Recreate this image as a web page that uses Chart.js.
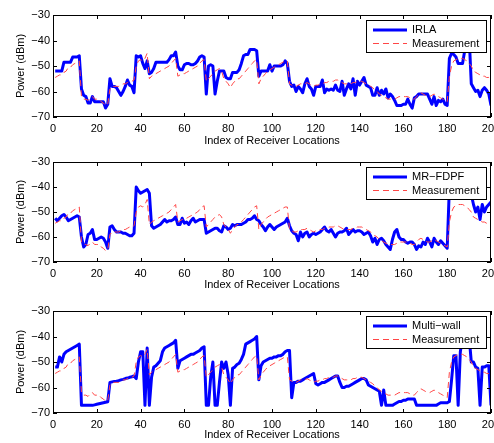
<!DOCTYPE html>
<html>
<head>
<meta charset="utf-8">
<title>Power vs receiver location</title>
<script src="https://cdn.jsdelivr.net/npm/chart.js@4.4.0/dist/chart.umd.min.js"></script>
<style>
  body { margin: 0; background: #fff; overflow: hidden; }
  canvas { position: absolute; left: 0; }
</style>
</head>
<body>
<canvas id="irla-chart" width="494" height="148" style="top:0"></canvas>
<canvas id="mrfdpf-chart" width="494" height="148" style="top:148px"></canvas>
<canvas id="multiwall-chart" width="494" height="147" style="top:296px"></canvas>
<script>
// receiver index 1..200
const locations = Array.from({ length: 200 }, (_, i) => i + 1);
const xTicks = [0, 20, 40, 60, 80, 100, 120, 140, 160, 180, 200];
const yTicks = [-70, -60, -50, -40, -30];

// measured power (dBm), same trace in all three panels
const measurement = [
  -54.5, -54, -53.5, -53.5, -52.5, -52, -50.5, -50.5, -49.5, -49,
  -48.5, -48, -62, -63, -63, -63.5, -62.5, -62, -63, -63,
  -63, -64, -64.5, -65.5, -65, -59, -58, -58, -58, -58,
  -57.5, -57, -57, -56.5, -56, -56, -55.5, -50, -48, -47.5,
  -48, -47, -45, -55, -54, -53.5, -53, -52.5, -52, -51.5,
  -51, -50.5, -50, -49, -48, -47, -54, -53.5, -53, -53,
  -52.5, -52, -51.5, -51, -50.5, -50, -49, -48, -47.5, -56,
  -55, -54, -53, -52, -51.5, -51, -52, -55, -56, -57,
  -58.5, -57, -56, -55, -55, -54, -53, -52, -51, -50,
  -49, -48, -47.5, -57, -55, -54, -53, -52, -51.5, -51,
  -50.5, -50, -49.5, -49, -48.5, -48, -48, -57, -57.5, -58,
  -58, -57.5, -57, -57, -57, -56.5, -57, -57.5, -58, -57.5,
  -57.5, -57, -57, -56.5, -56.5, -56, -56, -56, -55.5, -55.5,
  -56, -56.5, -57, -57, -57, -57, -56.5, -56.5, -56, -56,
  -56, -56.5, -57, -57.5, -58, -58.5, -59.5, -60, -61, -61.5,
  -62, -62.5, -63, -63, -63, -63, -62.5, -62, -62, -62,
  -62, -62, -62.5, -63, -63, -62, -61, -60.5, -61, -61.5,
  -62, -62, -61.5, -61, -61.5, -62, -62.5, -63, -63.5, -64,
  -54, -50, -48, -47.5, -47, -47, -47, -47.5, -48, -49,
  -50, -52, -52.5, -53, -53.5, -54, -54, -54.5, -54.5, -55
];

const irla = [
  -52, -52, -52, -52, -48.5, -48.5, -48.5, -48.5, -46.5, -46.5,
  -46.5, -46, -59, -61.5, -62, -64.5, -64.5, -62, -64, -64,
  -64, -64, -64, -66.5, -65, -55, -58, -58, -58.5, -60,
  -61.5, -60, -58, -55.5, -57.5, -58, -60.5, -46, -46.5, -46,
  -49, -51, -48, -53, -52.5, -51, -48.5, -48.5, -48.5, -48.5,
  -48.5, -48.5, -47.5, -46, -46, -44.5, -50, -51.5, -51.5, -49.5,
  -49, -49, -49.5, -49.5, -49, -48, -46.5, -46, -46.5, -61,
  -50, -49.5, -50, -61, -56, -52, -52, -52, -54.5, -55,
  -55, -52.5, -52.5, -52.5, -51.5, -49, -46, -45.5, -45.5, -43.5,
  -43.5, -43.5, -44, -54, -52, -52, -52, -52, -49.5, -52,
  -50, -50, -50, -50, -49.5, -48, -49, -56, -58, -57.5,
  -60, -58, -59, -60.5, -57, -55, -58, -59, -61.5, -58,
  -58, -58, -55.5, -60.5, -59, -59.5, -59, -59.5, -57.5, -59.5,
  -60, -56, -61.5, -59, -57, -59, -55, -61.5, -56, -57.5,
  -56, -54.5, -57.5, -58, -58.5, -61.5, -61.5, -58.5, -61.5, -59.5,
  -61, -59, -62.5, -61, -62, -63.5, -65.5, -65.5, -65.5, -65,
  -65, -63, -65, -66.5, -62.5, -62, -61, -61, -61, -61,
  -61, -63, -65, -62, -65.5, -63.5, -64, -63, -65, -65.5,
  -47, -45, -45.5, -46.5, -49, -49, -49, -44, -38, -38,
  -57, -58.5, -60, -59.5, -62, -59.5, -58.5, -59.5, -61, -65.5
];

const mrFdpf = [
  -52.5, -53.5, -52.5, -51.5, -51, -52, -53.5, -53, -52.5, -52,
  -51.5, -52, -60, -64, -63, -59, -58.5, -57, -61, -61,
  -60.5, -60, -60.5, -62, -64.5, -56, -55.5, -57, -58, -58,
  -58, -58.5, -58.5, -59, -59.5, -59.5, -58.5, -40, -41.5, -42.5,
  -42, -41.5, -41, -42.5, -55.5, -56.5, -56, -55.5, -55, -54,
  -53, -54, -53.5, -53.5, -53, -52, -55, -55, -52.5, -54.5,
  -54, -55, -53.5, -52.5, -54, -53.5, -53, -53, -53, -58.5,
  -58, -57.5, -57, -56.5, -56.5, -57.5, -58, -55.5, -56, -57,
  -56.5, -55, -55.5, -55, -55, -55, -54.5, -54, -53, -53,
  -52.5, -51.5, -53, -53.5, -55, -56, -57.5, -56, -55, -56,
  -57, -56, -55.5, -55, -54.5, -54, -52.5, -55.5, -57.5, -58.5,
  -59, -61.5, -58, -60, -58.5, -58, -60, -59, -58.5, -59,
  -58.5, -58, -57, -56, -57.5, -58, -57, -58.5, -60, -58.5,
  -58, -58, -57.5, -56.5, -59, -58, -57, -58, -57.5, -57.5,
  -58, -59, -58.5, -58, -59.5, -62, -60.5, -63, -61, -60.5,
  -61.5, -63, -64, -65, -61, -58, -57, -60, -61, -61,
  -62, -62.5, -62, -62, -63, -65, -63.5, -64, -62, -63,
  -60.5, -62, -64, -60.5, -62, -63, -61.5, -62.5, -63.5, -64.5,
  -40, -42, -43, -42, -41, -42, -43, -42, -41, -42,
  -43, -47, -50, -48, -53, -47, -50, -48, -47, -46
];

const multiWall = [
  -52, -52, -48, -50, -47, -46, -45.5, -45, -44.5, -44,
  -43.5, -43, -67, -67, -67, -67, -67, -67, -66.8, -66.6,
  -66.4, -66.2, -66, -65.8, -65.6, -58, -57.8, -57.6, -57.5, -57.3,
  -57, -56.8, -56.5, -56.3, -56, -55.8, -55.5, -56.5, -50, -46,
  -46, -67, -44.5, -67, -56, -52, -51.5, -50.5, -49.5, -46,
  -44.5, -44, -43.5, -43, -42.5, -41.5, -52.5, -49.5, -49, -48.5,
  -48, -47.5, -47, -47, -46.5, -46, -45.5, -44.5, -44, -67,
  -67, -56, -50, -67, -67, -58, -50, -52.5, -50, -55,
  -67, -52.5, -52, -51, -50.5, -49, -47, -43, -42.5, -42,
  -41.5, -41, -40, -57, -51.5, -50, -49.5, -49, -48.5, -48.5,
  -48, -48, -47.5, -47.5, -47, -46, -45.5, -45.5, -64, -58,
  -58, -57.5, -57.5, -57, -56.5, -56, -55.5, -55, -54.5, -58.5,
  -59, -58.5, -58, -58, -57.5, -57, -56.5, -56, -55.5, -55.5,
  -58, -60, -60, -59.5, -59.5, -59, -58.5, -58, -57.5, -57,
  -56.5, -56.5, -57, -59, -59.5, -60, -60.5, -61, -61.5, -67,
  -61, -67, -67, -67, -67, -66.5, -66, -65.5, -65.5, -65,
  -65, -64.5, -64.5, -64.5, -64.5, -67, -67, -67, -67, -67,
  -67, -67, -67, -67, -67, -66.5, -66, -66, -66, -66,
  -65.5, -57, -47.5, -47.5, -67, -46, -40, -38, -38, -40,
  -50, -50, -52, -52.5, -67, -52, -52, -51.5, -51.5, -67
];

Chart.defaults.font.family = '"Liberation Sans", Arial, Helvetica, sans-serif';
Chart.defaults.font.size = 11;
Chart.defaults.color = '#000';

const minus = v => String(v).replace('-', '\u2212');

// box around the plot + short inward ticks on all four sides
const frame = {
  id: 'frame',
  afterDatasetsDraw(chart) {
    const { ctx, chartArea: a, scales: { x, y } } = chart;
    ctx.save();
    ctx.strokeStyle = '#000';
    ctx.lineWidth = 1;
    ctx.strokeRect(a.left + 0.5, a.top + 0.5, a.width - 1, a.height - 1);
    ctx.beginPath();
    x.ticks.forEach(t => {
      const px = Math.round(x.getPixelForValue(t.value)) + 0.5;
      ctx.moveTo(px, a.bottom); ctx.lineTo(px, a.bottom - 4);
      ctx.moveTo(px, a.top); ctx.lineTo(px, a.top + 4);
    });
    y.ticks.forEach(t => {
      const py = Math.round(y.getPixelForValue(t.value)) + 0.5;
      ctx.moveTo(a.left, py); ctx.lineTo(a.left + 4, py);
      ctx.moveTo(a.right, py); ctx.lineTo(a.right - 4, py);
    });
    ctx.stroke();
    ctx.restore();
  }
};

// legend in a white box, top right inside the plot
const boxLegend = {
  id: 'boxLegend',
  afterDraw(chart) {
    const { ctx, chartArea: a } = chart;
    const w = 120, h = 32;
    const left = Math.round(a.right - 5 - w), top = Math.round(a.top + 5);
    ctx.save();
    ctx.fillStyle = '#fff';
    ctx.fillRect(left, top, w, h);
    ctx.strokeStyle = '#000';
    ctx.lineWidth = 1;
    ctx.strokeRect(left + 0.5, top + 0.5, w, h);
    chart.data.datasets.forEach((ds, i) => {
      const ly = top + 10 + i * 13.5;
      ctx.beginPath();
      ctx.strokeStyle = ds.borderColor;
      ctx.lineWidth = ds.borderWidth;
      ctx.setLineDash(ds.borderDash || []);
      ctx.moveTo(left + 7, ly);
      ctx.lineTo(left + 41, ly);
      ctx.stroke();
      ctx.setLineDash([]);
      ctx.fillStyle = '#000';
      ctx.textBaseline = 'middle';
      ctx.font = '11px "Liberation Sans", Arial, sans-serif';
      ctx.fillText(ds.label, left + 46, ly);
    });
    ctx.restore();
  }
};

const panels = [
  { id: 'irla-chart', name: 'IRLA', values: irla, top: 15, axisH: 31, titlePad: 0 },
  { id: 'mrfdpf-chart', name: 'MR\u2212FDPF', values: mrFdpf, top: 14, axisH: 34, titlePad: 4 },
  { id: 'multiwall-chart', name: 'Multi\u2212wall', values: multiWall, top: 15, axisH: 30, titlePad: 1 }
];

panels.forEach(p => {
  const ctx = document.getElementById(p.id).getContext('2d');
  new Chart(ctx, {
    type: 'line',
    data: {
      datasets: [{
        label: p.name,
        data: locations.map((loc, i) => ({ x: loc, y: p.values[i] })),
        borderColor: '#0000ff',
        borderWidth: 3,
        borderJoinStyle: 'round',
        pointRadius: 0,
        tension: 0,
        order: 1
      }, {
        label: 'Measurement',
        data: locations.map((loc, i) => ({ x: loc, y: measurement[i] })),
        borderColor: 'rgb(255, 70, 70)',
        borderWidth: 1,
        borderDash: [6, 4],
        pointRadius: 0,
        tension: 0,
        order: 0
      }]
    },
    options: {
      responsive: false,
      animation: false,
      devicePixelRatio: 1,
      layout: { padding: { top: p.top, right: 3, left: 0, bottom: 0 } },
      plugins: { legend: { display: false }, tooltip: { enabled: false } },
      scales: {
        x: {
          type: 'linear',
          min: 0,
          max: 200,
          afterBuildTicks: s => { s.ticks = xTicks.map(v => ({ value: v })); },
          afterFit: s => { s.height = p.axisH; s.paddingLeft = 0; s.paddingRight = 0; },
          grid: { display: false, drawTicks: false },
          border: { display: false },
          ticks: { padding: 5, maxRotation: 0, autoSkip: false },
          title: { display: true, text: 'Index of Receiver Locations', padding: { top: 0, bottom: p.titlePad } }
        },
        y: {
          min: -70,
          max: -30,
          afterBuildTicks: s => { s.ticks = yTicks.map(v => ({ value: v })); },
          afterFit: s => { s.width = 53; },
          grid: { display: false, drawTicks: false },
          border: { display: false },
          ticks: { padding: 3, callback: minus },
          title: { display: true, text: 'Power (dBm)', padding: { top: 14, bottom: 0 } }
        }
      }
    },
    plugins: [frame, boxLegend]
  });
});
</script>
</body>
</html>
